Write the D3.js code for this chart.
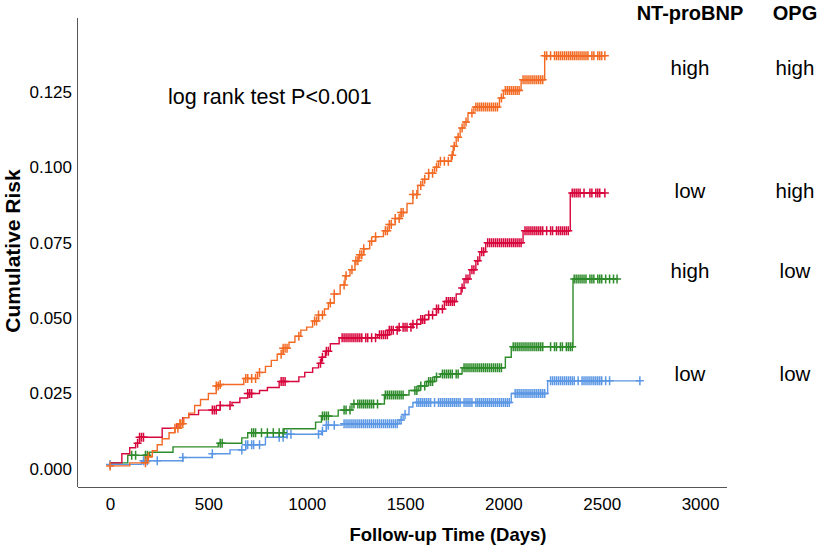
<!DOCTYPE html>
<html>
<head>
<meta charset="utf-8">
<script src="https://cdn.jsdelivr.net/npm/d3@7"></script>
<style>
  body { margin: 0; background: #fff; }
  svg { display: block; font-family: Arial, "Liberation Sans", sans-serif; }
  .axis path { stroke: #555; }
  .axis text { font-size: 17px; fill: #000; }
</style>
</head>
<body>
<svg id="chart" width="820" height="547"></svg>
<script>
// tick values of both axes
var xTicks = [0, 500, 1000, 1500, 2000, 2500, 3000];
var yTicks = [0, 0.025, 0.05, 0.075, 0.1, 0.125];

// group labels (NT-proBNP, OPG)
var groupNames = ['high/high', 'low/high', 'high/low', 'low/low'];
var ntLabels = ['high', 'low', 'high', 'low'];
var opgLabels = ['high', 'high', 'low', 'low'];
var groupColors = ['#f26a24', '#d7063c', '#2e8b2b', '#5b97e4'];

// step knots [day, cumulative risk]
var stepsHighHigh = [[0, 0.001], [100, 0.002], [190, 0.004], [215, 0.006], [240, 0.008], [265, 0.010],
  [300, 0.012], [330, 0.0135], [350, 0.015], [375, 0.017], [400, 0.0185], [430, 0.021], [460, 0.023],
  [500, 0.025], [540, 0.0275], [560, 0.028], [680, 0.030], [750, 0.032], [790, 0.034], [820, 0.036],
  [850, 0.038], [880, 0.040], [910, 0.042], [940, 0.044], [970, 0.046], [1000, 0.047], [1030, 0.049],
  [1060, 0.051], [1090, 0.053], [1110, 0.055], [1140, 0.058], [1170, 0.061], [1195, 0.064], [1220, 0.066],
  [1245, 0.069], [1265, 0.071], [1290, 0.073], [1320, 0.0755], [1350, 0.077], [1390, 0.079], [1420, 0.081],
  [1450, 0.083], [1480, 0.085], [1510, 0.088], [1540, 0.091], [1565, 0.094], [1590, 0.096], [1620, 0.098],
  [1650, 0.100], [1670, 0.102], [1735, 0.104], [1745, 0.107], [1760, 0.110], [1780, 0.113], [1800, 0.115],
  [1820, 0.118], [1850, 0.120], [1980, 0.123], [2000, 0.1255], [2090, 0.129], [2210, 0.137]];
var stepsLowHigh = [[0, 0.002], [60, 0.005], [100, 0.007], [130, 0.0085], [150, 0.0105], [265, 0.0135],
  [340, 0.015], [370, 0.017], [400, 0.018], [450, 0.0195], [560, 0.021], [620, 0.022], [660, 0.0235],
  [700, 0.025], [760, 0.026], [800, 0.027], [860, 0.029], [960, 0.0305], [990, 0.032], [1030, 0.0335],
  [1060, 0.035], [1075, 0.037], [1095, 0.039], [1120, 0.0415], [1165, 0.0435], [1360, 0.0445],
  [1420, 0.046], [1470, 0.047], [1540, 0.048], [1580, 0.0495], [1620, 0.051], [1660, 0.053],
  [1700, 0.0555], [1760, 0.058], [1785, 0.060], [1800, 0.063], [1830, 0.066], [1860, 0.069],
  [1880, 0.072], [1910, 0.075], [2100, 0.079], [2340, 0.0915]];
var stepsHighLow = [[0, 0.002], [90, 0.0045], [200, 0.0055], [320, 0.0073], [550, 0.0085], [670, 0.0103],
  [700, 0.012], [885, 0.0133], [1045, 0.0155], [1075, 0.0175], [1160, 0.0195], [1230, 0.0215],
  [1395, 0.0245], [1520, 0.026], [1570, 0.0275], [1610, 0.029], [1650, 0.0305], [1680, 0.0315],
  [1790, 0.0335], [2010, 0.037], [2040, 0.0405], [2354, 0.063]];
var stepsLowLow = [[0, 0.0015], [160, 0.0027], [370, 0.0038], [520, 0.005], [610, 0.0063], [690, 0.008],
  [790, 0.0105], [900, 0.0115], [1075, 0.0125], [1100, 0.0145], [1180, 0.015], [1470, 0.0162],
  [1490, 0.018], [1520, 0.0205], [1540, 0.022], [2040, 0.025], [2225, 0.0292]];

// last follow-up day of each group
var lastDays = [2516, 2516, 2578, 2694];

// censored days (the + marks)
var censorHighHigh = [0, 180, 195, 330, 345, 355, 360, 370, 540, 550, 560, 690, 700, 720, 740, 760, 870, 880,
  890, 900, 960, 1040, 1050, 1060, 1080, 1120, 1140, 1190, 1200, 1230, 1250, 1260, 1270, 1280, 1290, 1330,
  1350, 1400, 1410, 1420, 1430, 1450, 1470, 1480, 1490, 1540, 1560, 1580, 1600, 1620, 1640, 1660, 1680,
  1700, 1720, 1740, 1750, 1770, 1790, 1810, 1840, 1860, 1870, 1880, 1890, 1900, 1910, 1920, 1930, 1940,
  1950, 1960, 1970, 1990, 2010, 2020, 2030, 2040, 2050, 2060, 2070, 2080, 2100, 2110, 2120, 2130, 2140,
  2150, 2160, 2170, 2180, 2190, 2200, 2210, 2220, 2240, 2260, 2270, 2280, 2290, 2300, 2310, 2320, 2330,
  2340, 2350, 2360, 2370, 2380, 2390, 2400, 2410, 2420, 2430, 2450, 2460, 2480, 2490, 2500, 2516];
var censorLowHigh = [140, 150, 160, 170, 520, 530, 540, 560, 610, 700, 710, 720, 870, 880, 890, 1070, 1080,
  1100, 1110, 1180, 1190, 1200, 1210, 1220, 1230, 1240, 1250, 1260, 1270, 1280, 1300, 1310, 1330, 1350,
  1370, 1380, 1390, 1400, 1410, 1420, 1430, 1440, 1460, 1470, 1490, 1500, 1510, 1530, 1540, 1560, 1580,
  1590, 1600, 1620, 1640, 1660, 1670, 1690, 1710, 1720, 1730, 1740, 1750, 1790, 1810, 1820, 1840, 1850,
  1870, 1890, 1900, 1920, 1930, 1940, 1950, 1960, 1970, 1980, 1990, 2000, 2010, 2020, 2030, 2040, 2050,
  2060, 2070, 2080, 2090, 2110, 2120, 2130, 2140, 2150, 2160, 2170, 2180, 2190, 2200, 2220, 2240, 2250,
  2270, 2280, 2290, 2300, 2310, 2320, 2330, 2350, 2360, 2370, 2380, 2390, 2410, 2440, 2450, 2470, 2480,
  2490, 2516];
var censorHighLow = [110, 130, 180, 190, 560, 570, 720, 730, 740, 770, 800, 830, 860, 880, 1080, 1090, 1100,
  1110, 1190, 1200, 1220, 1240, 1260, 1270, 1280, 1290, 1300, 1310, 1320, 1330, 1340, 1360, 1400, 1410,
  1420, 1430, 1440, 1450, 1460, 1470, 1480, 1490, 1550, 1560, 1580, 1600, 1620, 1630, 1640, 1660, 1690,
  1700, 1710, 1720, 1730, 1740, 1760, 1770, 1800, 1810, 1820, 1830, 1840, 1850, 1860, 1870, 1880, 1890,
  1900, 1910, 1920, 1930, 1940, 1950, 1960, 1970, 1980, 1990, 2050, 2060, 2070, 2080, 2090, 2100, 2110,
  2120, 2130, 2140, 2150, 2160, 2170, 2180, 2190, 2200, 2240, 2260, 2270, 2290, 2300, 2320, 2330, 2340,
  2350, 2360, 2370, 2380, 2390, 2400, 2410, 2420, 2440, 2450, 2460, 2480, 2490, 2500, 2520, 2540, 2560,
  2578];
var censorLowLow = [0, 170, 180, 190, 240, 370, 520, 670, 690, 700, 720, 730, 760, 860, 880, 900, 920, 1060,
  1080, 1100, 1110, 1140, 1190, 1200, 1210, 1220, 1230, 1240, 1250, 1260, 1270, 1280, 1290, 1300, 1310,
  1320, 1330, 1340, 1350, 1360, 1370, 1380, 1390, 1400, 1410, 1420, 1430, 1440, 1450, 1460, 1480, 1500,
  1560, 1570, 1580, 1590, 1600, 1610, 1620, 1630, 1650, 1670, 1680, 1690, 1700, 1710, 1720, 1730, 1740,
  1750, 1760, 1770, 1780, 1800, 1810, 1820, 1830, 1840, 1860, 1870, 1880, 1890, 1900, 1910, 1920, 1930,
  1940, 1950, 1960, 1970, 1980, 1990, 2000, 2010, 2020, 2030, 2060, 2070, 2080, 2090, 2100, 2110, 2120,
  2130, 2140, 2150, 2160, 2170, 2180, 2190, 2200, 2210, 2240, 2250, 2260, 2270, 2280, 2290, 2300, 2310,
  2320, 2330, 2340, 2350, 2360, 2380, 2400, 2410, 2420, 2430, 2440, 2450, 2460, 2470, 2480, 2490, 2500,
  2520, 2540, 2694];

var allSteps = [stepsHighHigh, stepsLowHigh, stepsHighLow, stepsLowLow];
var allCensor = [censorHighHigh, censorLowHigh, censorHighLow, censorLowLow];

var svg = d3.select('#chart');

var x = d3.scaleLinear().domain([-163, 3137]).range([78, 727]);
var y = d3.scaleLinear().domain([-0.006, 0.1495]).range([487, 18]);

// axes, no tick marks (SPSS style)
svg.append('g').attr('class', 'axis')
  .attr('transform', 'translate(0,487)')
  .call(d3.axisBottom(x).tickValues(xTicks).tickSize(0).tickPadding(11).tickFormat(d3.format('d')))
  .call(function (g) { g.select('.domain').attr('d', 'M78,0.5H727'); });

svg.append('g').attr('class', 'axis')
  .attr('transform', 'translate(78,0)')
  .call(d3.axisLeft(y).tickValues(yTicks).tickSize(0).tickPadding(6).tickFormat(d3.format('.3f')))
  .call(function (g) { g.select('.domain').attr('d', 'M-0.5,18V487'); });

// value of a step curve at a day
var stepValue = function (steps, day) {
  var i = d3.bisector(function (d) { return d[0]; }).right(steps, day) - 1;
  return steps[Math.max(0, i)][1];
};

var line = d3.line()
  .x(function (d) { return x(d[0]); })
  .y(function (d) { return y(d[1]); })
  .curve(d3.curveStepAfter);

// draw groups bottom-up so orange sits on top
[3, 2, 1, 0].forEach(function (k) {
  var steps = allSteps[k];
  var pts = steps.concat([[lastDays[k], steps[steps.length - 1][1]]]);
  var grp = svg.append('g').attr('class', 'group').attr('data-name', groupNames[k]);

  grp.append('path')
    .attr('d', line(pts))
    .attr('fill', 'none')
    .attr('stroke', groupColors[k])
    .attr('stroke-width', 1.4);

  grp.selectAll('path.censor').data(allCensor[k]).enter().append('path')
    .attr('class', 'censor')
    .attr('d', function (d) {
      var cx = x(d), cy = y(stepValue(steps, d));
      return 'M' + (cx - 4) + ',' + cy + 'H' + (cx + 4) + 'M' + cx + ',' + (cy - 4.5) + 'V' + (cy + 4.5);
    })
    .attr('stroke', groupColors[k])
    .attr('stroke-width', 1.5)
    .attr('fill', 'none');
});

// axis titles
svg.append('text')
  .attr('transform', 'translate(20,251) rotate(-90)')
  .attr('text-anchor', 'middle')
  .style('font-size', '21px').style('font-weight', 'bold')
  .text('Cumulative Risk');

svg.append('text')
  .attr('x', 448).attr('y', 541)
  .attr('text-anchor', 'middle')
  .style('font-size', '18.5px').style('font-weight', 'bold')
  .text('Follow-up Time (Days)');

svg.append('text')
  .attr('x', 168).attr('y', 104)
  .style('font-size', '21.5px')
  .text('log rank test P<0.001');

// group legend on the right
svg.append('text').attr('x', 690).attr('y', 20).attr('text-anchor', 'middle')
  .style('font-size', '20px').style('font-weight', 'bold').text('NT-proBNP');
svg.append('text').attr('x', 795).attr('y', 20).attr('text-anchor', 'middle')
  .style('font-size', '20px').style('font-weight', 'bold').text('OPG');

var rowY = [75, 198, 278, 381];
ntLabels.forEach(function (t, i) {
  svg.append('text').attr('x', 690).attr('y', rowY[i]).attr('text-anchor', 'middle')
    .style('font-size', '20.5px').text(t);
  svg.append('text').attr('x', 795).attr('y', rowY[i]).attr('text-anchor', 'middle')
    .style('font-size', '20.5px').text(opgLabels[i]);
});
</script>
</body>
</html>
